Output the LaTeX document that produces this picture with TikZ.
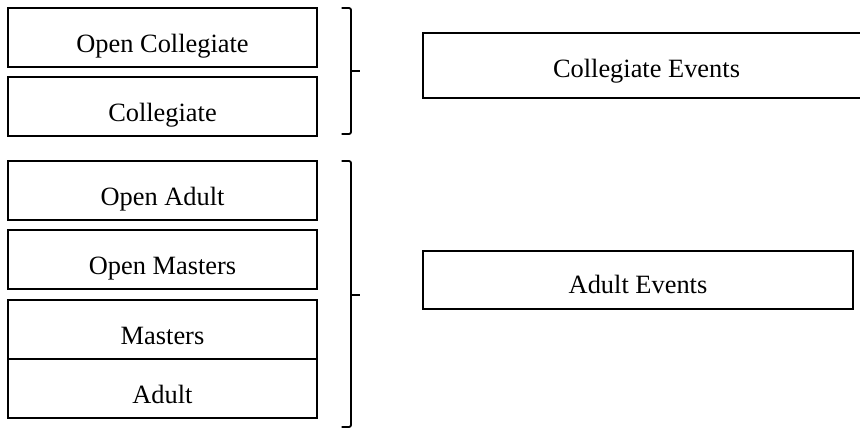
\documentclass[tikz,border=0pt]{standalone}
\usepackage{fontspec}
\setmainfont{Liberation Serif}
\begin{document}
\begin{tikzpicture}[x=1pt,y=1pt,
  box/.style={draw=black,line width=1.6pt,inner sep=0pt,anchor=north,
    font=\fontsize{26.4}{30}\selectfont,text height=44.6pt,text depth=14.4pt},
  leftbox/.style={box,minimum width=309pt},
  brace/.style={draw=black,line width=1.8pt,rounded corners=2pt},
  tick/.style={draw=black,line width=1.8pt}]
\useasboundingbox (0,0) rectangle (860,-429);
\clip (0,0) rectangle (860,-429);
\fill[white] (0,0) rectangle (860,-429);
% left boxes
\node[leftbox] (oc) at (162.5,-7) {Open Collegiate};
\node[leftbox,text height=44.7pt,text depth=14.3pt] (col) at (162.5,-76) {Collegiate};
\node[leftbox,text height=44.7pt,text depth=14.3pt] (oa) at (162.5,-160) {Open Adult};
\node[leftbox,text height=45pt,text depth=14pt] (om) at (162.5,-229) {Open Masters};
\node[leftbox,text height=44.4pt,text depth=14.6pt] (ma) at (162.5,-299) {Masters};
\node[leftbox,text height=44.4pt,text depth=14.6pt] (ad) at (162.5,-358) {Adult};
% right boxes
\node[box,minimum width=447pt,text height=45pt,text depth=20pt] (ce) at (646.5,-32) {Collegiate Events};
\node[box,minimum width=430pt,text height=42.4pt,text depth=15.6pt] (ae) at (638,-250) {Adult Events};
% braces
\coordinate (b1t) at (341.7,-8);
\coordinate (b1b) at (341.7,-134);
\coordinate (b1m) at (351,-71);
\coordinate (b1e) at (360,-71);
\draw[brace] (b1t) -- (351,-8) -- (351,-134) -- (b1b);
\draw[tick] (b1m) -- (b1e);
\coordinate (b2t) at (341.7,-161);
\coordinate (b2b) at (341.7,-427);
\coordinate (b2m) at (351,-295);
\coordinate (b2e) at (360,-295);
\draw[brace] (b2t) -- (351,-161) -- (351,-427) -- (b2b);
\draw[tick] (b2m) -- (b2e);
\end{tikzpicture}
\end{document}
